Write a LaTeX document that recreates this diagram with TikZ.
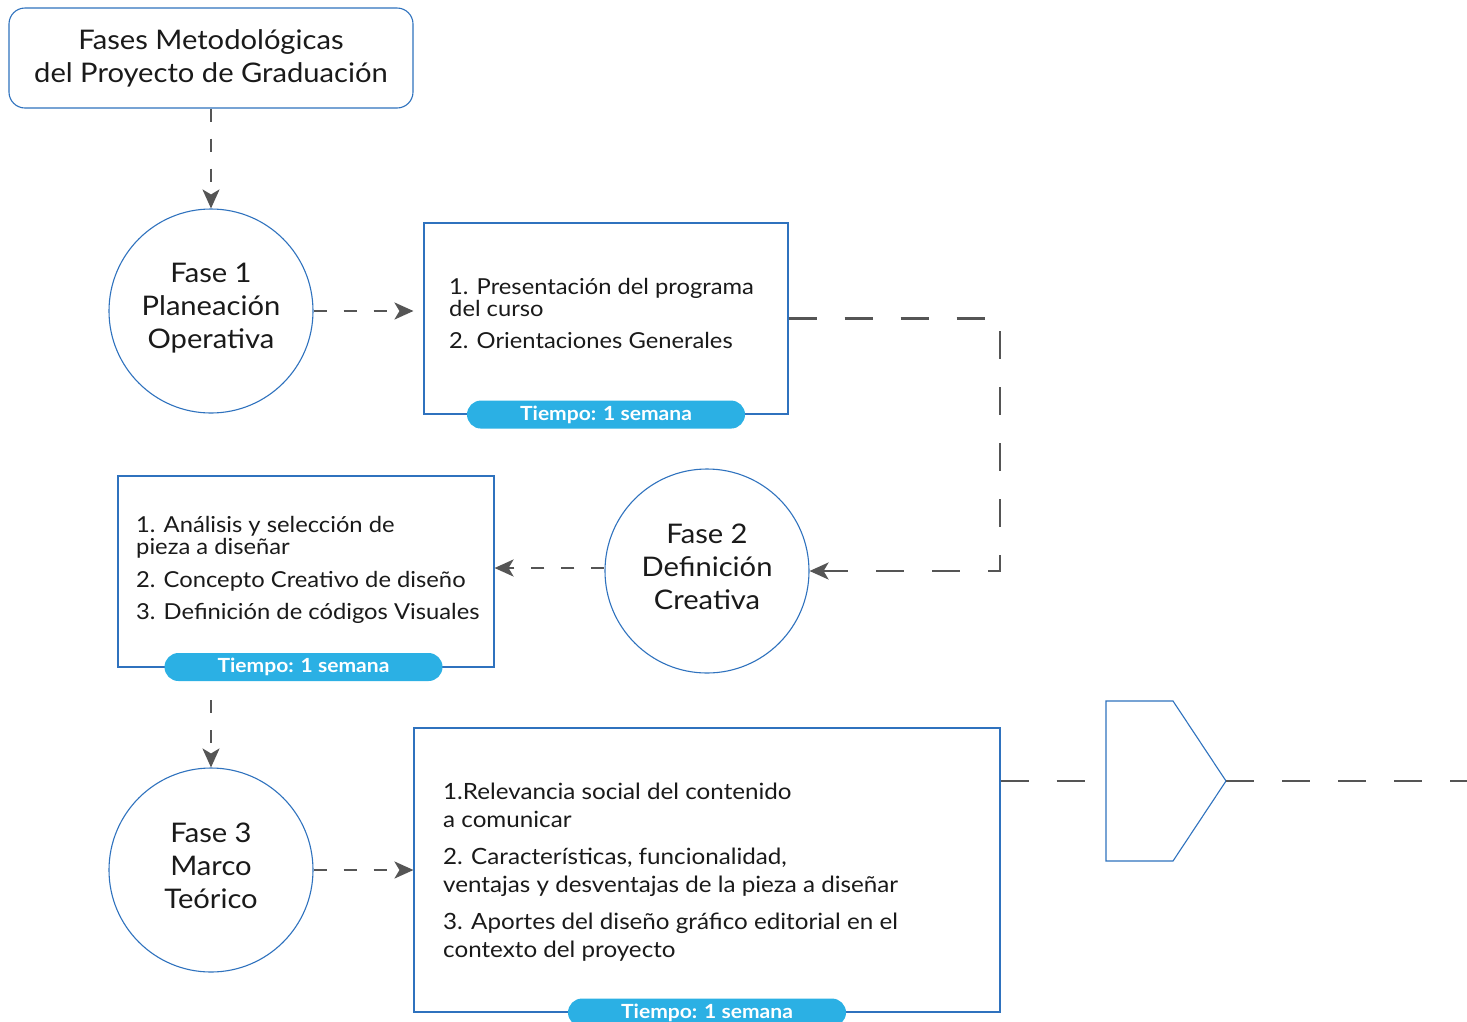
\documentclass[tikz,border=0pt]{standalone}
\usepackage{fontspec}
\setmainfont{Lato}[FakeStretch=1.08]
\usetikzlibrary{arrows.meta}
\definecolor{outl}{HTML}{2F72BE}
\definecolor{conn}{HTML}{555555}
\definecolor{pillc}{HTML}{2BB0E4}
\definecolor{ink}{HTML}{1A1A1A}
\begin{document}
\begin{tikzpicture}[x=1pt,y=-1pt,
  bigtxt/.style={font=\fontsize{27}{33}\selectfont, text=ink},
  circ/.style={circle, draw=outl, line width=1.1pt, minimum size=204pt, inner sep=0pt},
  ctxt/.style={align=center, inner sep=0pt, bigtxt},
  sbox/.style={rectangle, draw=outl, line width=1.1pt, inner sep=0pt},
  pillb/.style={fill=pillc, rounded corners=14pt, minimum width=278pt, minimum height=28pt, inner sep=0pt, text=white, font=\fontsize{19.5}{20}\selectfont\bfseries},
  itm/.style={anchor=base west, inner sep=0pt, text=ink, font=\fontsize{22}{22}\selectfont},
  itmb/.style={anchor=base west, inner sep=0pt, text=ink, font=\fontsize{22.4}{24}\selectfont},
  tipk/.style={-{Stealth[length=19pt,width=17pt,inset=5pt]}},
  sarrow/.style={draw=conn, line width=2.4pt, dash pattern=on 13pt off 17pt, tipk},
  larrow/.style={draw=conn, line width=2.4pt, dash pattern=on 28pt off 28pt, tipk},
  lline/.style={draw=conn, line width=2.4pt, dash pattern=on 28pt off 28pt}
]
\useasboundingbox (0,0) rectangle (1467,1021);
\fill[white] (0,0) rectangle (1467,1021);

% title
\node[sbox, rounded corners=16pt, minimum width=404pt, minimum height=100pt, align=center, bigtxt] (title) at (211,58) {Fases Metodológicas\\del Proyecto de Graduación};

% circles
\node[circ] (c1) at (211,311) {};
\node[circ] (c2) at (707,571) {};
\node[circ] (c3) at (211,870) {};
\node[ctxt] (c1t) at ([yshift=3pt]c1.center) {Fase 1\\Planeación\\Operativa};
\node[ctxt] (c2t) at ([yshift=4pt]c2.center) {Fase 2\\Definición\\Creativa};
\node[ctxt] (c3t) at ([yshift=4pt]c3.center) {Fase 3\\Marco\\Teórico};

% boxes
\node[sbox, minimum width=364pt, minimum height=191pt] (b1) at (606,318.5) {};
\node[sbox, minimum width=376pt, minimum height=191pt] (b2) at (306,571.5) {};
\node[sbox, minimum width=586pt, minimum height=284pt] (b3) at (707,870) {};

% box texts
\node[itm] (t11) at (449,294) {1. Presentación del programa};
\node[itm] (t12) at (449,316) {del curso};
\node[itm] (t13) at (449,348) {2. Orientaciones Generales};

\node[itm] (t21) at (136,532) {1. Análisis y selección de};
\node[itm] (t22) at (136,554) {pieza a diseñar};
\node[itm] (t23) at (136,587) {2. Concepto Creativo de diseño};
\node[itm] (t24) at (136,619) {3. Definición de códigos Visuales};

\node[itmb] (t31) at (443,799) {1.Relevancia social del contenido};
\node[itmb] (t32) at (443,827) {a comunicar};
\node[itmb] (t33) at (443,864) {2. Características, funcionalidad,};
\node[itmb] (t34) at (443,892) {ventajas y desventajas de la pieza a diseñar};
\node[itmb] (t35) at (443,929) {3. Aportes del diseño gráfico editorial en el};
\node[itmb] (t36) at (443,957) {contexto del proyecto};

% pills
\node[pillb] (p1) at (b1.south) {Tiempo: 1 semana};
\node[pillb] (p2) at (303.5,667) {Tiempo: 1 semana};
\node[pillb] (p3) at (b3.south) {Tiempo: 1 semana};

% pentagon shape
\coordinate (pl) at (1106,781);
\coordinate (pt) at (1226,781);
\draw[outl, line width=1.1pt, line join=miter] (1106,701) -- (1173,701) -- (pt) -- (1173,861) -- (1106,861) -- cycle;

% connectors
\coordinate (k1) at (1000,0);
\coordinate (s2) at (211,700);
\coordinate (pe) at (1467,781);

\draw[sarrow] (title.south) -- (c1.north);
\draw[sarrow, shorten >=10pt] (c1.east) -- (c1.east -| b1.west);
\draw[larrow] (b1.east) -- (b1.east -| k1) |- (c2.east);
\draw[sarrow] ([yshift=3pt]c2.west) -- ([yshift=3pt]c2.west -| b2.east);
\draw[sarrow] (s2) -- (c3.north);
\draw[sarrow] (c3.east) -- (c3.east -| b3.west);
\draw[lline] (b3.east |- pl) -- (pl);
\draw[lline] (pt) -- (pe);
\end{tikzpicture}
\end{document}
